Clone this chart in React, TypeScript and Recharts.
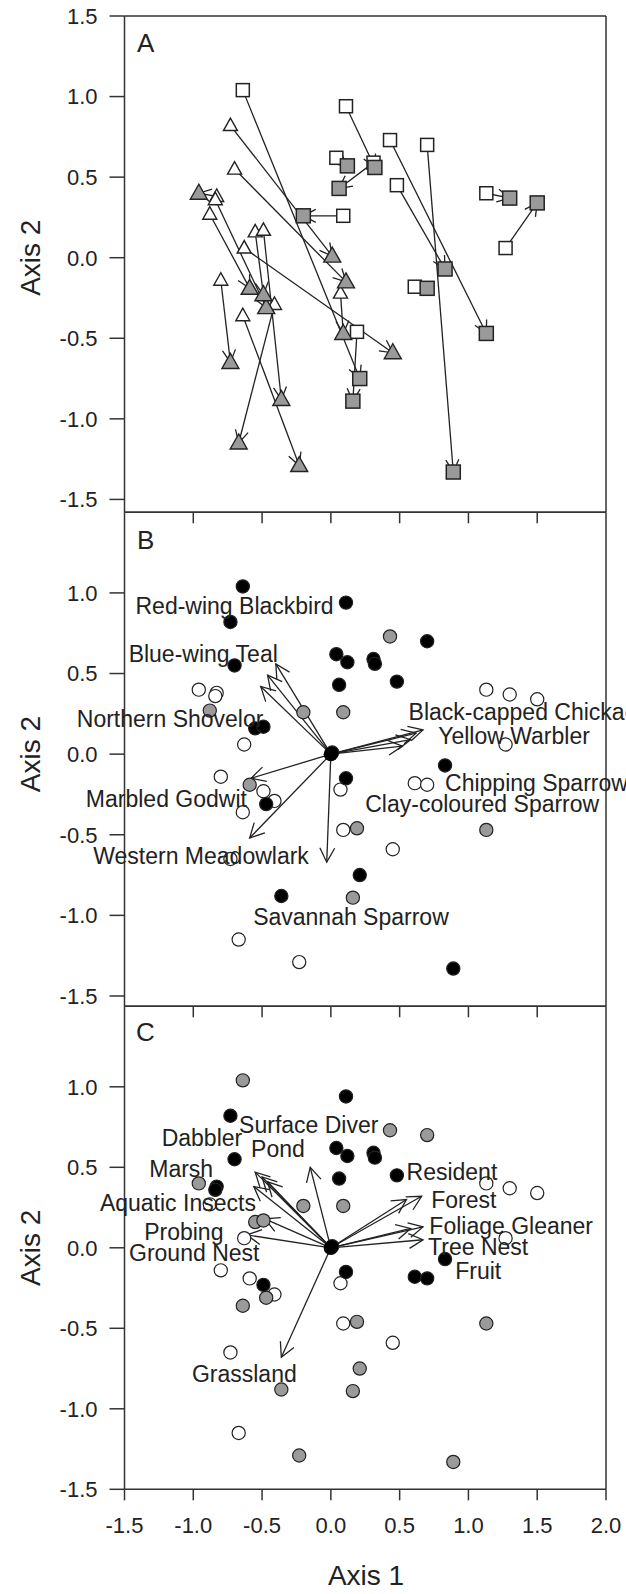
import React from 'react';
import { ScatterChart, Scatter, XAxis, YAxis, ReferenceLine } from 'recharts';

type Pt = { x: number; y: number };
type Lbl = { name: string; x: number; y: number; anchor: 'start' | 'middle' | 'end' };

// ---------- Panel A: sites, first survey (open) -> second survey (grey) ----------
const squareFrom: Pt[] = [
  { x: -0.64, y: 1.04 }, { x: 0.11, y: 0.94 }, { x: 0.04, y: 0.62 }, { x: 0.43, y: 0.73 },
  { x: 0.70, y: 0.70 }, { x: 0.48, y: 0.45 }, { x: 0.09, y: 0.26 }, { x: 1.13, y: 0.40 },
  { x: 1.27, y: 0.06 }, { x: 0.61, y: -0.18 }, { x: 0.19, y: -0.46 }, { x: 0.31, y: 0.59 },
];
const squareTo: Pt[] = [
  { x: 0.21, y: -0.75 }, { x: 0.32, y: 0.56 }, { x: 0.12, y: 0.57 }, { x: 1.13, y: -0.47 },
  { x: 0.89, y: -1.33 }, { x: 0.83, y: -0.07 }, { x: -0.20, y: 0.26 }, { x: 1.30, y: 0.37 },
  { x: 1.50, y: 0.34 }, { x: 0.70, y: -0.19 }, { x: 0.16, y: -0.89 }, { x: 0.06, y: 0.43 },
];
const triangleFrom: Pt[] = [
  { x: -0.73, y: 0.82 }, { x: -0.70, y: 0.55 }, { x: -0.83, y: 0.38 }, { x: -0.84, y: 0.36 },
  { x: -0.88, y: 0.27 }, { x: -0.55, y: 0.16 }, { x: -0.49, y: 0.17 }, { x: -0.63, y: 0.06 },
  { x: -0.80, y: -0.14 }, { x: -0.64, y: -0.36 }, { x: 0.07, y: -0.22 }, { x: -0.41, y: -0.29 },
];
const triangleTo: Pt[] = [
  { x: 0.01, y: 0.01 }, { x: 0.11, y: -0.15 }, { x: -0.96, y: 0.40 }, { x: -0.47, y: -0.31 },
  { x: -0.59, y: -0.19 }, { x: -0.49, y: -0.23 }, { x: -0.36, y: -0.88 }, { x: 0.45, y: -0.59 },
  { x: -0.73, y: -0.65 }, { x: -0.23, y: -1.29 }, { x: 0.09, y: -0.47 }, { x: -0.67, y: -1.15 },
];

// ---------- Panel B: sites shaded by group, species vectors ----------
const bBlack: Pt[] = [
  { x: -0.64, y: 1.04 }, { x: 0.11, y: 0.94 }, { x: -0.73, y: 0.82 }, { x: 0.70, y: 0.70 },
  { x: 0.04, y: 0.62 }, { x: 0.12, y: 0.57 }, { x: 0.31, y: 0.59 }, { x: 0.32, y: 0.56 },
  { x: -0.70, y: 0.55 }, { x: 0.06, y: 0.43 }, { x: 0.48, y: 0.45 }, { x: -0.55, y: 0.16 },
  { x: -0.49, y: 0.17 }, { x: 0.83, y: -0.07 }, { x: 0.11, y: -0.15 }, { x: -0.47, y: -0.31 },
  { x: 0.21, y: -0.75 }, { x: -0.36, y: -0.88 }, { x: 0.89, y: -1.33 }, { x: 0.01, y: 0.01 },
];
const bGrey: Pt[] = [
  { x: 0.43, y: 0.73 }, { x: -0.20, y: 0.26 }, { x: 0.09, y: 0.26 }, { x: -0.88, y: 0.27 },
  { x: -0.59, y: -0.19 }, { x: 0.19, y: -0.46 }, { x: 1.13, y: -0.47 }, { x: 0.16, y: -0.89 },
];
const bWhite: Pt[] = [
  { x: -0.96, y: 0.40 }, { x: -0.83, y: 0.38 }, { x: -0.84, y: 0.36 }, { x: -0.63, y: 0.06 },
  { x: -0.80, y: -0.14 }, { x: -0.49, y: -0.23 }, { x: -0.41, y: -0.29 }, { x: -0.64, y: -0.36 },
  { x: 0.07, y: -0.22 }, { x: 0.09, y: -0.47 }, { x: 0.45, y: -0.59 }, { x: 0.61, y: -0.18 },
  { x: 0.70, y: -0.19 }, { x: -0.73, y: -0.65 }, { x: -0.67, y: -1.15 }, { x: -0.23, y: -1.29 },
  { x: 1.13, y: 0.40 }, { x: 1.30, y: 0.37 }, { x: 1.50, y: 0.34 }, { x: 1.27, y: 0.06 },
];
const bVectors: Pt[] = [
  { x: -0.40, y: 0.56 }, { x: -0.46, y: 0.49 }, { x: -0.51, y: 0.42 },
  { x: 0.67, y: 0.15 }, { x: 0.62, y: 0.13 }, { x: 0.58, y: 0.09 }, { x: 0.52, y: 0.05 },
  { x: -0.58, y: -0.15 }, { x: -0.59, y: -0.52 }, { x: -0.03, y: -0.67 },
];
const bLabels: Lbl[] = [
  { name: 'Red-wing Blackbird', x: -1.42, y: 0.92, anchor: 'start' },
  { name: 'Blue-wing Teal', x: -1.47, y: 0.62, anchor: 'start' },
  { name: 'Northern Shovelor', x: -0.49, y: 0.22, anchor: 'end' },
  { name: 'Black-capped Chickadee', x: 0.565, y: 0.26, anchor: 'start' },
  { name: 'Yellow Warbler', x: 0.78, y: 0.11, anchor: 'start' },
  { name: 'Chipping Sparrow', x: 0.83, y: -0.18, anchor: 'start' },
  { name: 'Clay-coloured Sparrow', x: 0.25, y: -0.31, anchor: 'start' },
  { name: 'Marbled Godwit', x: -0.61, y: -0.28, anchor: 'end' },
  { name: 'Western Meadowlark', x: -0.16, y: -0.63, anchor: 'end' },
  { name: 'Savannah Sparrow', x: -0.565, y: -1.01, anchor: 'start' },
];

// ---------- Panel C: sites shaded by group, trait vectors ----------
const cBlack: Pt[] = [
  { x: 0.11, y: 0.94 }, { x: -0.73, y: 0.82 }, { x: 0.04, y: 0.62 }, { x: 0.12, y: 0.57 },
  { x: 0.31, y: 0.59 }, { x: 0.32, y: 0.56 }, { x: -0.70, y: 0.55 }, { x: 0.06, y: 0.43 },
  { x: 0.48, y: 0.45 }, { x: -0.83, y: 0.38 }, { x: -0.84, y: 0.36 }, { x: -0.49, y: -0.23 },
  { x: 0.11, y: -0.15 }, { x: 0.61, y: -0.18 }, { x: 0.70, y: -0.19 }, { x: 0.83, y: -0.07 },
  { x: 0.01, y: 0.01 },
];
const cGrey: Pt[] = [
  { x: -0.64, y: 1.04 }, { x: 0.43, y: 0.73 }, { x: 0.70, y: 0.70 }, { x: -0.96, y: 0.40 },
  { x: -0.20, y: 0.26 }, { x: 0.09, y: 0.26 }, { x: -0.55, y: 0.16 }, { x: -0.49, y: 0.17 },
  { x: -0.64, y: -0.36 }, { x: -0.47, y: -0.31 }, { x: 0.19, y: -0.46 }, { x: 1.13, y: -0.47 },
  { x: 0.21, y: -0.75 }, { x: -0.36, y: -0.88 }, { x: 0.16, y: -0.89 }, { x: -0.23, y: -1.29 },
  { x: 0.89, y: -1.33 },
];
const cWhite: Pt[] = [
  { x: -0.88, y: 0.27 }, { x: -0.63, y: 0.06 }, { x: -0.80, y: -0.14 }, { x: -0.59, y: -0.19 },
  { x: -0.41, y: -0.29 }, { x: 0.07, y: -0.22 }, { x: 0.09, y: -0.47 }, { x: 0.45, y: -0.59 },
  { x: -0.73, y: -0.65 }, { x: -0.67, y: -1.15 }, { x: 1.13, y: 0.40 }, { x: 1.30, y: 0.37 },
  { x: 1.50, y: 0.34 }, { x: 1.27, y: 0.06 },
];
const cVectors: Pt[] = [
  { x: -0.55, y: 0.47 }, { x: -0.50, y: 0.44 }, { x: -0.56, y: 0.38 }, { x: -0.46, y: 0.41 },
  { x: -0.15, y: 0.50 }, { x: -0.48, y: 0.18 }, { x: -0.61, y: 0.08 },
  { x: -0.36, y: -0.68 },
  { x: 0.55, y: 0.30 }, { x: 0.66, y: 0.32 }, { x: 0.67, y: 0.13 }, { x: 0.58, y: 0.12 },
  { x: 0.67, y: 0.05 },
];
const cLabels: Lbl[] = [
  { name: 'Surface Diver', x: -0.667, y: 0.76, anchor: 'start' },
  { name: 'Dabbler', x: -1.23, y: 0.68, anchor: 'start' },
  { name: 'Pond', x: -0.58, y: 0.615, anchor: 'start' },
  { name: 'Marsh', x: -1.32, y: 0.49, anchor: 'start' },
  { name: 'Resident', x: 0.55, y: 0.47, anchor: 'start' },
  { name: 'Aquatic Insects', x: -0.545, y: 0.28, anchor: 'end' },
  { name: 'Forest', x: 0.73, y: 0.30, anchor: 'start' },
  { name: 'Foliage Gleaner', x: 0.716, y: 0.134, anchor: 'start' },
  { name: 'Probing', x: -1.357, y: 0.096, anchor: 'start' },
  { name: 'Ground Nest', x: -1.467, y: -0.03, anchor: 'start' },
  { name: 'Tree Nest', x: 0.707, y: 0.005, anchor: 'start' },
  { name: 'Fruit', x: 0.904, y: -0.144, anchor: 'start' },
  { name: 'Grassland', x: -1.01, y: -0.786, anchor: 'start' },
];

const origin: Pt[] = [{ x: 0, y: 0 }];

// ---------- axes ----------
const X_DOMAIN: [number, number] = [-1.5, 2.0];
const X_TICKS = [-1.5, -1, -0.5, 0, 0.5, 1, 1.5, 2];
const X_INNER_TICKS = [-1, -0.5, 0, 0.5, 1, 1.5];
const Y_TICKS_A = [-1.5, -1, -0.5, 0, 0.5, 1, 1.5];
const Y_TICKS_BC = [-1.5, -1, -0.5, 0, 0.5, 1];

// ---------- layout ----------
const FONT = '"Liberation Sans", Arial, Helvetica, sans-serif';
const INK = '#222';
const GREY = '#9a9a9a';
const CW = 626;
const CH = 1594;
const PLOT_L = 124.5;
const PLOT_R = 606;
const YAX_W = 60;
const AX_H = 10;

type Geom = { top: number; bottom: number; domain: [number, number] };
const GEOM_A: Geom = { top: 16, bottom: 512.3, domain: [-1.58, 1.5] };
const GEOM_B: Geom = { top: 512.3, bottom: 1006.3, domain: [-1.564, 1.5] };
const GEOM_C: Geom = { top: 1006.3, bottom: 1489.3, domain: [-1.5, 1.5] };

const AXIS_STYLE = { stroke: '#333', strokeWidth: 1.5 };
const TICK_STYLE = { fontSize: 22, fill: INK, fontFamily: FONT };
const fmt = (v: number) => v.toFixed(1);
const blank = () => '';

const zeroY = (g: Geom) => g.top + (g.domain[1] / (g.domain[1] - g.domain[0])) * (g.bottom - g.top);

// ---------- shapes ----------
const openSquare = (p: any) => (
  <rect x={p.cx - 6.5} y={p.cy - 6.5} width={13} height={13} fill="#fff" stroke={INK} strokeWidth={1.5} />
);
const greySquare = (p: any) => (
  <rect x={p.cx - 7} y={p.cy - 7} width={14} height={14} fill={GREY} stroke={INK} strokeWidth={1.5} />
);
const openTriangle = (p: any) => (
  <polygon
    points={`${p.cx},${p.cy - 7.5} ${p.cx - 7},${p.cy + 5} ${p.cx + 7},${p.cy + 5}`}
    fill="#fff" stroke={INK} strokeWidth={1.4}
  />
);
const greyTriangle = (p: any) => (
  <polygon
    points={`${p.cx},${p.cy - 9} ${p.cx - 8.5},${p.cy + 6} ${p.cx + 8.5},${p.cy + 6}`}
    fill={GREY} stroke={INK} strokeWidth={1.4}
  />
);
const dot = (fill: string) => (p: any) => (
  <circle cx={p.cx} cy={p.cy} r={6.6} fill={fill} stroke={INK} strokeWidth={1.2} />
);
const originDot = (p: any) => <circle cx={p.cx} cy={p.cy} r={7.2} fill="#000" />;
const labelShape = (p: any) => (
  <text
    x={p.cx} y={p.cy} dy="0.35em" textAnchor={p.payload.anchor}
    fontSize={23} fontFamily={FONT} fill={INK}
  >
    {p.payload.name}
  </text>
);

const arrowShape = (len: number) => (p: any) => {
  const { x1, y1, x2, y2 } = p;
  const a = Math.atan2(y2 - y1, x2 - x1);
  const h = Math.PI / 6.5;
  const ax = x2 - len * Math.cos(a - h);
  const ay = y2 - len * Math.sin(a - h);
  const bx = x2 - len * Math.cos(a + h);
  const by = y2 - len * Math.sin(a + h);
  return (
    <g>
      <line x1={x1} y1={y1} x2={x2} y2={y2} stroke={INK} strokeWidth={1.3} />
      <polyline points={`${ax},${ay} ${x2},${y2} ${bx},${by}`} fill="none" stroke={INK} strokeWidth={1.3} />
    </g>
  );
};

const arrows = (from: Pt[], to: Pt[], len: number, key: string) =>
  from.map((f, i) => (
    <ReferenceLine
      key={`${key}${i}`}
      segment={[{ x: f.x, y: f.y }, { x: to[i].x, y: to[i].y }]}
      shape={arrowShape(len)}
      ifOverflow="visible"
    />
  ));

function Panel(props: {
  geom: Geom;
  yTicks: number[];
  topTicks: number[] | null;
  bottomTicks: number[];
  bottomLabels: boolean;
  children: React.ReactNode;
}) {
  const { geom, yTicks, topTicks, bottomTicks, bottomLabels, children } = props;
  return (
    <div style={{ position: 'absolute', left: 0, top: 0 }}>
      <ScatterChart
        width={CW}
        height={CH}
        margin={{
          top: geom.top - AX_H,
          bottom: CH - geom.bottom - AX_H,
          left: PLOT_L - YAX_W,
          right: CW - PLOT_R - 1,
        }}
      >
        <XAxis
          type="number" dataKey="x" domain={X_DOMAIN} ticks={bottomTicks} interval={0}
          height={AX_H} tickSize={11} tickMargin={17}
          tickFormatter={bottomLabels ? fmt : blank}
          axisLine={AXIS_STYLE} tickLine={AXIS_STYLE} tick={TICK_STYLE}
        />
        <XAxis
          xAxisId="top" orientation="top" type="number" domain={X_DOMAIN}
          ticks={topTicks ?? X_INNER_TICKS} interval={0} height={AX_H} tickSize={11}
          tickFormatter={blank} axisLine={AXIS_STYLE} tickLine={topTicks ? AXIS_STYLE : false}
        />
        <YAxis
          type="number" dataKey="y" domain={geom.domain} ticks={yTicks} interval={0}
          width={YAX_W} tickSize={15} tickMargin={12} tickFormatter={fmt}
          axisLine={AXIS_STYLE} tickLine={AXIS_STYLE} tick={TICK_STYLE}
        />
        <YAxis
          yAxisId="right" orientation="right" type="number" domain={geom.domain}
          width={1} tick={false} tickLine={false} axisLine={AXIS_STYLE}
        />
        {children}
      </ScatterChart>
    </div>
  );
}

const vectorFrom = (v: Pt[]) => v.map(() => origin[0]);

export default function App() {
  const panelTexts = [
    { t: 'A', x: 137, y: 52 },
    { t: 'B', x: 137, y: 549 },
    { t: 'C', x: 136, y: 1041 },
  ];
  const axis2 = [zeroY(GEOM_A), zeroY(GEOM_B), zeroY(GEOM_C)];
  return (
    <div style={{ position: 'absolute', left: 0, top: 0, width: 626, height: 1594, background: '#fff', fontFamily: FONT }}>
      <Panel geom={GEOM_A} yTicks={Y_TICKS_A} topTicks={null} bottomTicks={X_INNER_TICKS} bottomLabels={false}>
        {[
          <Scatter key="os" data={squareFrom} shape={openSquare} isAnimationActive={false} />,
          <Scatter key="ot" data={triangleFrom} shape={openTriangle} isAnimationActive={false} />,
          <Scatter key="gs" data={squareTo} shape={greySquare} isAnimationActive={false} />,
          <Scatter key="gt" data={triangleTo} shape={greyTriangle} isAnimationActive={false} />,
          ...arrows(squareFrom, squareTo, 14, 'sa'),
          ...arrows(triangleFrom, triangleTo, 14, 'ta'),
        ]}
      </Panel>
      <Panel geom={GEOM_B} yTicks={Y_TICKS_BC} topTicks={X_INNER_TICKS} bottomTicks={X_INNER_TICKS} bottomLabels={false}>
        {[
          <Scatter key="bw" data={bWhite} shape={dot('#fff')} isAnimationActive={false} />,
          <Scatter key="bg" data={bGrey} shape={dot(GREY)} isAnimationActive={false} />,
          <Scatter key="bb" data={bBlack} shape={dot('#000')} isAnimationActive={false} />,
          ...arrows(vectorFrom(bVectors), bVectors, 16, 'bv'),
          <Scatter key="bo" data={origin} shape={originDot} isAnimationActive={false} />,
          <Scatter key="bl" data={bLabels} shape={labelShape} isAnimationActive={false} />,
        ]}
      </Panel>
      <Panel geom={GEOM_C} yTicks={Y_TICKS_BC} topTicks={X_INNER_TICKS} bottomTicks={X_TICKS} bottomLabels={true}>
        {[
          <Scatter key="cw" data={cWhite} shape={dot('#fff')} isAnimationActive={false} />,
          <Scatter key="cg" data={cGrey} shape={dot(GREY)} isAnimationActive={false} />,
          <Scatter key="cb" data={cBlack} shape={dot('#000')} isAnimationActive={false} />,
          ...arrows(vectorFrom(cVectors), cVectors, 16, 'cv'),
          <Scatter key="co" data={origin} shape={originDot} isAnimationActive={false} />,
          <Scatter key="cl" data={cLabels} shape={labelShape} isAnimationActive={false} />,
        ]}
      </Panel>
      <svg width={626} height={1594} style={{ position: 'absolute', left: 0, top: 0, pointerEvents: 'none' }}>
        {panelTexts.map((p) => (
          <text key={p.t} x={p.x} y={p.y} fontSize={26} fontFamily={FONT} fill={INK}>{p.t}</text>
        ))}
        {axis2.map((y, i) => (
          <text
            key={i} x={0} y={0} fontSize={28} fontFamily={FONT} fill={INK} textAnchor="middle" dy="0.35em"
            transform={`translate(30 ${y}) rotate(-90)`}
          >
            Axis 2
          </text>
        ))}
        <text x={366} y={1585} fontSize={28} fontFamily={FONT} fill={INK} textAnchor="middle">Axis 1</text>
      </svg>
    </div>
  );
}
